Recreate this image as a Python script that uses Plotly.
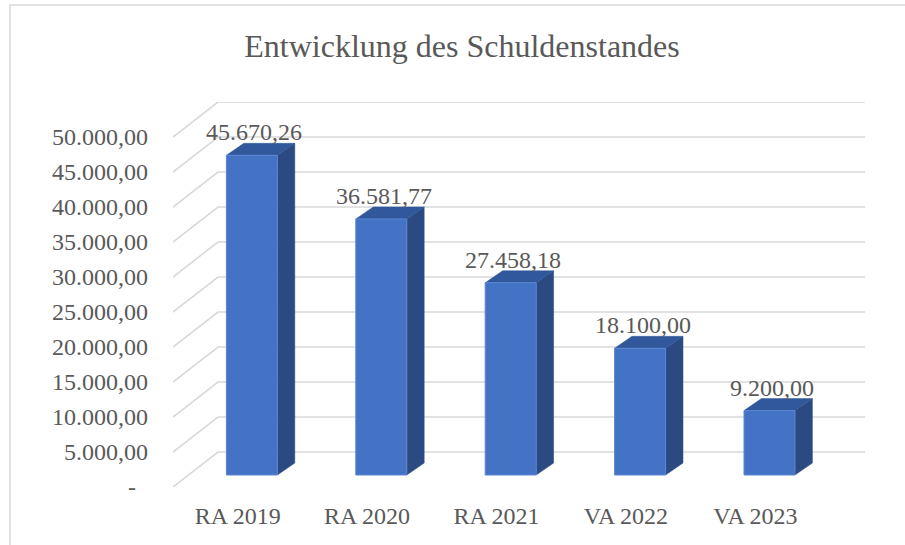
import plotly.graph_objects as go

# ---- data ----
categories = ["RA 2019", "RA 2020", "RA 2021", "VA 2022", "VA 2023"]
values = [45670.26, 36581.77, 27458.18, 18100.00, 9200.00]
tick_values = [0, 5000, 10000, 15000, 20000, 25000, 30000, 35000, 40000, 45000, 50000]
title_text = "Entwicklung des Schuldenstandes"


def de_fmt(v):
    s = f"{v:,.2f}"
    return s.replace(",", "X").replace(".", ",").replace("X", ".")


tick_text = ["-\u00a0\u00a0" if v == 0 else de_fmt(v) for v in tick_values]
label_text = [de_fmt(v) for v in values]

# ---- 3D geometry (axis units) ----
W, H = 905, 545
ML, MR, MT, MB = 173, 40, 102, 58
PX_CAT = 129.4
PX_VAL = 7.0 / 1000.0
WALL_DX = 45 / PX_CAT           # depth of floor/wall in category units
WALL_DY = 35 / PX_VAL           # depth of floor/wall in value units
FRONT_DX = 14.2 / PX_CAT        # bar front face offset in depth
FRONT_DY = 12 / PX_VAL
BAR_W = 51 / PX_CAT
SIDE_DX = 17.4 / PX_CAT
SIDE_DY = 12 / PX_VAL

n = len(categories)
xmin = -0.5
xmax = n - 0.5

GRID = "#D9D9D9"
FRONT = "#4472C4"
SIDE = "#2C4A82"
TOP = "#30589A"
TXT = "#595959"
FONT = "Liberation Serif"

fig = go.Figure()

# gridlines: back wall horizontal + side diagonals
gx, gy = [], []
for v in tick_values:
    gx += [xmin, xmin + WALL_DX, xmax + WALL_DX, None]
    gy += [v, v + WALL_DY, v + WALL_DY, None]
fig.add_trace(go.Scatter(x=gx, y=gy, mode="lines", line=dict(color=GRID, width=1.6),
                         hoverinfo="skip", showlegend=False, cliponaxis=False))

sx, sy, tx, ty, fx, fy = [], [], [], [], [], []
for i, v in enumerate(values):
    x0 = i + FRONT_DX - BAR_W / 2
    x1 = x0 + BAR_W
    y0 = FRONT_DY
    y1 = FRONT_DY + v
    sx += [x1, x1 + SIDE_DX, x1 + SIDE_DX, x1, x1, None]
    sy += [y0, y0 + SIDE_DY, y1 + SIDE_DY, y1, y0, None]
    tx += [x0, x0 + SIDE_DX, x1 + SIDE_DX, x1, x0, None]
    ty += [y1, y1 + SIDE_DY, y1 + SIDE_DY, y1, y1, None]
    fx += [x0, x1, x1, x0, x0, None]
    fy += [y0, y0, y1, y1, y0, None]

fig.add_trace(go.Scatter(x=sx, y=sy, mode="lines", fill="toself", fillcolor=SIDE,
                         line=dict(color=SIDE, width=0.5), hoverinfo="skip",
                         showlegend=False, cliponaxis=False))
fig.add_trace(go.Scatter(x=tx, y=ty, mode="lines", fill="toself", fillcolor=TOP,
                         line=dict(color=TOP, width=0.5), hoverinfo="skip",
                         showlegend=False, cliponaxis=False))
fig.add_trace(go.Scatter(x=fx, y=fy, mode="lines", fill="toself", fillcolor=FRONT,
                         line=dict(color="#5A86D4", width=1), hoverinfo="skip",
                         showlegend=False, cliponaxis=False))

# data labels
for i, v in enumerate(values):
    fig.add_annotation(x=i + FRONT_DX + 0.02, y=FRONT_DY + v + SIDE_DY,
                       text=label_text[i], showarrow=False, yanchor="bottom",
                       yshift=-4, font=dict(family=FONT, size=24, color=TXT))

# chart border (top + left visible)
fig.add_shape(type="rect", xref="paper", yref="paper",
              x0=(10 - ML) / (W - ML - MR), x1=1.5,
              y0=-0.5, y1=(H - MB - 5) / (H - MT - MB),
              line=dict(color=GRID, width=1.5), fillcolor="rgba(0,0,0,0)", layer="below")

fig.update_layout(
    width=W, height=H,
    margin=dict(l=ML, r=MR, t=MT, b=MB),
    paper_bgcolor="white", plot_bgcolor="white",
    title=dict(text=title_text, x=462 / W, xanchor="center", y=1 - 46 / H, yanchor="middle",
               font=dict(family=FONT, size=32, color=TXT)),
    xaxis=dict(range=[xmin, xmax + WALL_DX], tickvals=list(range(n)), ticktext=categories,
               showgrid=False, zeroline=False, showline=False, ticks="",
               ticklabelstandoff=12, tickfont=dict(family=FONT, size=24, color=TXT),
               fixedrange=True),
    yaxis=dict(range=[0, 55000], tickvals=tick_values, ticktext=tick_text,
               showgrid=False, zeroline=False, showline=False, ticks="",
               ticklabelstandoff=24, tickfont=dict(family=FONT, size=24, color=TXT),
               fixedrange=True),
    showlegend=False,
    hovermode=False,
)

fig.write_html("out.html", config={"displayModeBar": False},
               post_script="document.body.style.margin='0';document.body.style.overflow='hidden';")
